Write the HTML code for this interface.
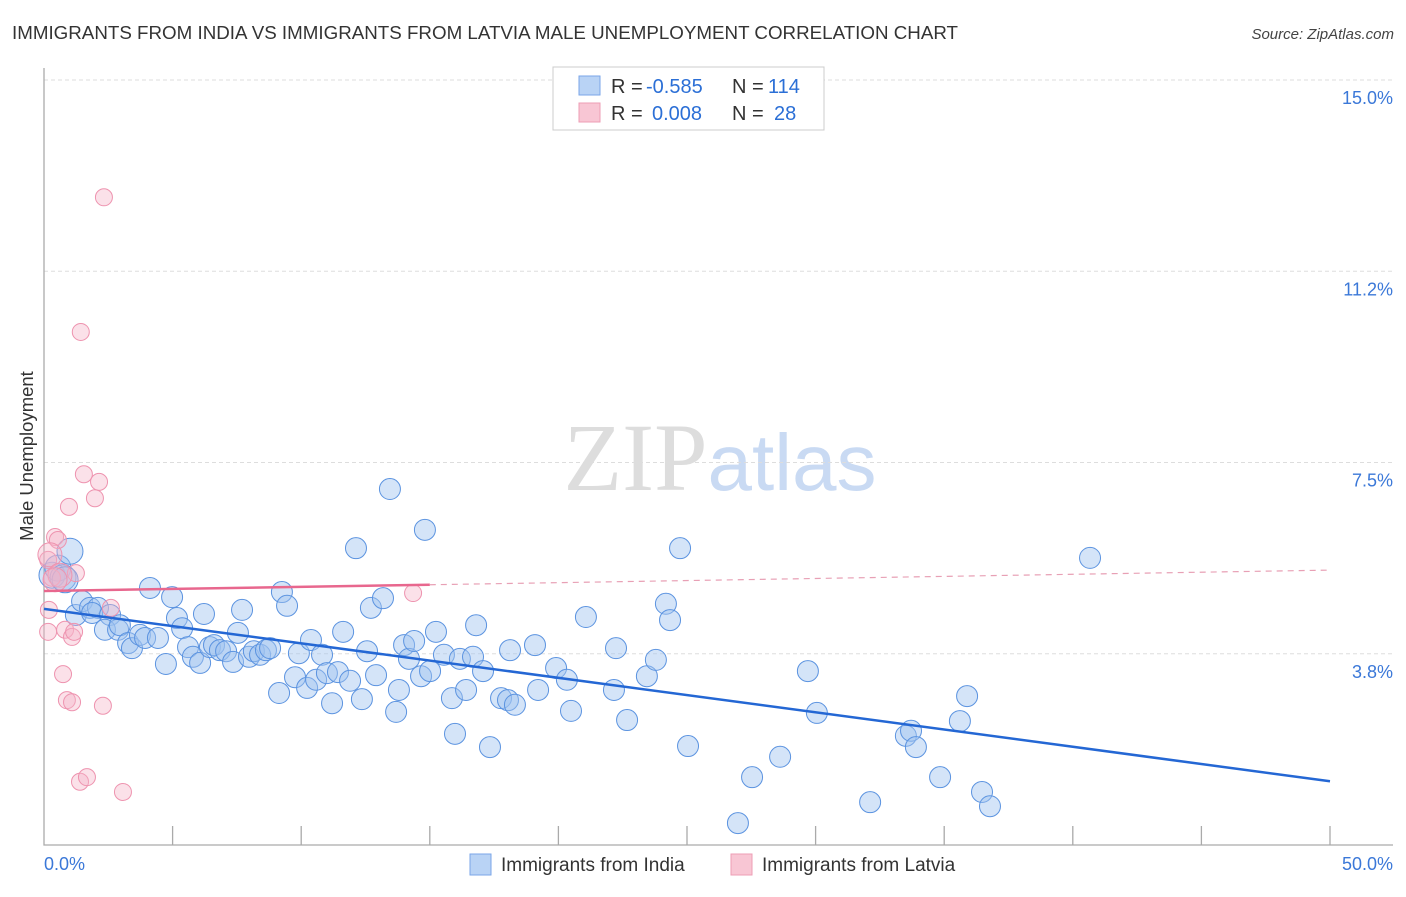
<!DOCTYPE html>
<html><head><meta charset="utf-8"><style>
body{margin:0;background:#fff;font-family:"Liberation Sans",sans-serif;}
svg text{font-family:"Liberation Sans",sans-serif;}
</style></head><body>
<svg id="chart" width="1406" height="892" xmlns="http://www.w3.org/2000/svg">
<text x="12" y="39" font-size="18" fill="#333" textLength="946" lengthAdjust="spacingAndGlyphs">IMMIGRANTS FROM INDIA VS IMMIGRANTS FROM LATVIA MALE UNEMPLOYMENT CORRELATION CHART</text>
<text x="1394" y="39" font-size="15" fill="#444" font-style="italic" text-anchor="end">Source: ZipAtlas.com</text>
<text x="720" y="490" font-size="96" text-anchor="middle"><tspan fill="#ddd" font-family="Liberation Serif">ZIP</tspan><tspan fill="#c9daf3" font-size="80">atlas</tspan></text>
<text transform="translate(33,456) rotate(-90)" font-size="18.5" fill="#333" text-anchor="middle">Male Unemployment</text>
<g id="grid"></g><g id="axes"></g><g id="pts"></g><g id="lines"></g>
<g>
<rect x="553" y="67" width="271" height="63" fill="#fff" stroke="#ccc"/>
<rect x="579" y="76" width="21" height="19" fill="#b9d3f5" stroke="#7aa6e8"/>
<rect x="579" y="103" width="21" height="19" fill="#f8c6d4" stroke="#ee9db5"/>
<text x="611" y="93" font-size="20" fill="#333">R =</text>
<text x="646" y="93" font-size="20" fill="#2b6fd6">-0.585</text>
<text x="732" y="93" font-size="20" fill="#333">N =</text>
<text x="768" y="93" font-size="20" fill="#2b6fd6">114</text>
<text x="611" y="120" font-size="20" fill="#333">R =</text>
<text x="652" y="120" font-size="20" fill="#2b6fd6">0.008</text>
<text x="732" y="120" font-size="20" fill="#333">N =</text>
<text x="774" y="120" font-size="20" fill="#2b6fd6">28</text>
</g>
<g>
<rect x="470" y="854" width="21" height="21" fill="#b9d3f5" stroke="#7aa6e8"/>
<text x="501" y="871" font-size="19" fill="#333">Immigrants from India</text>
<rect x="731" y="854" width="21" height="21" fill="#f8c6d4" stroke="#ee9db5"/>
<text x="762" y="871" font-size="19" fill="#333">Immigrants from Latvia</text>
</g>
</svg>
<script>
const yTicks=[3.75,7.5,11.25,15];
const yTickLabels=["3.8%","7.5%","11.2%","15.0%"];
const xTicks=[0,5,10,15,20,25,30,35,40,45,50];
const indiaX=[0.31,0.54,0.74,1.01,0.82,1.24,1.48,1.79,2.10,1.87,2.57,2.37,2.88,2.95,3.27,3.42,3.73,3.93,4.12,4.43,4.74,4.98,5.17,5.37,5.60,5.79,6.07,6.22,6.45,6.61,6.84,7.08,7.35,7.54,7.70,7.97,8.16,8.40,8.63,8.79,9.14,9.25,9.45,9.91,9.76,10.23,10.38,10.58,10.81,11.00,11.20,11.43,11.63,11.90,12.13,12.36,12.56,12.71,12.91,13.18,13.45,13.69,13.80,14.00,14.19,14.39,14.66,14.81,15.01,15.24,15.55,15.86,15.98,16.17,16.41,16.68,16.80,17.07,17.34,17.77,18.04,18.31,18.12,19.09,19.21,19.91,20.33,20.49,21.07,22.16,22.24,22.67,23.44,23.79,24.18,24.34,24.73,25.04,26.98,27.53,28.62,29.70,30.05,32.12,33.51,33.71,33.90,34.84,35.61,35.89,36.47,36.78,40.67];
const indiaY=[5.29,5.43,5.24,5.76,5.20,4.51,4.78,4.65,4.65,4.55,4.51,4.22,4.22,4.31,3.96,3.86,4.12,4.06,5.04,4.06,3.55,4.86,4.45,4.25,3.88,3.69,3.57,4.53,3.88,3.92,3.82,3.80,3.59,4.16,4.61,3.69,3.80,3.73,3.82,3.86,2.98,4.96,4.69,3.76,3.29,3.08,4.02,3.24,3.73,3.37,2.78,3.39,4.18,3.22,5.82,2.86,3.80,4.65,3.33,4.84,6.98,2.61,3.04,3.92,3.65,4.00,3.31,6.18,3.41,4.18,3.73,2.88,2.18,3.65,3.04,3.69,4.31,3.41,1.92,2.88,2.84,2.75,3.82,3.92,3.04,3.47,3.24,2.63,4.47,3.04,3.86,2.45,3.31,3.63,4.73,4.41,5.82,1.94,0.43,1.33,1.73,3.41,2.59,0.84,2.14,2.24,1.92,1.33,2.43,2.92,1.04,0.76,5.63];
const latviaX=[2.33,1.43,1.55,2.14,1.98,0.97,0.43,0.54,0.16,1.24,0.31,0.19,2.60,0.16,0.82,1.09,1.17,0.74,0.89,1.09,2.29,1.40,1.67,3.07,14.35,0.23,0.62,0.43];
const latviaY=[12.70,10.06,7.27,7.12,6.80,6.63,6.04,5.98,5.59,5.33,5.24,4.61,4.65,4.18,4.22,4.08,4.18,3.35,2.84,2.80,2.73,1.24,1.33,1.04,4.94,5.69,5.29,5.20];
const indiaTrend=[4.63,1.25];
const latviaTrend=[4.98,5.39];
const X0=44,X1=1330,Y0=845,Y1=80;
const sx=v=>X0+v*(X1-X0)/50, sy=v=>Y0-v*(Y0-Y1)/15;
const NS="http://www.w3.org/2000/svg";
function mk(tag,attrs,parent){const e=document.createElementNS(NS,tag);for(const k in attrs)e.setAttribute(k,attrs[k]);document.getElementById(parent).appendChild(e);return e;}
yTicks.forEach((t,i)=>{
 const l=mk('line',{x1:X0,x2:1393,y1:sy(t),y2:sy(t),stroke:'#ddd','stroke-dasharray':'4,3'},'grid');
 
 
 const tx=mk('text',{x:1393,y:sy(t)+24,'font-size':18,fill:'#3b78d8','text-anchor':'end'},'grid');
 tx.textContent=yTickLabels[i];
 
 
});
const ax=mk('path',{d:`M${X0},68V${Y0}H1393`,stroke:'#aaa',fill:'none','stroke-width':1.3},'axes');


xTicks.forEach((t,i)=>{if(i==0)return;
 const l=mk('line',{x1:sx(t),x2:sx(t),y1:826,y2:Y0,stroke:'#aaa','stroke-width':1.3},'axes');
 
 
});
[["0.0%",X0,'start'],["50.0%",1393,'end']].forEach(a=>{
 const tx=mk('text',{x:a[1],y:870,'font-size':18,fill:'#3b78d8','text-anchor':a[2]},'axes');
 tx.textContent=a[0];
 
 
});
indiaX.forEach((v,i)=>{
 const c=mk('circle',{cx:sx(v),cy:sy(indiaY[i]),r:(v<1.2?13:10.5),fill:'rgba(160,196,240,0.45)',stroke:'#5b93e0','stroke-width':1},'pts');
 
 
});
latviaX.forEach((v,i)=>{
 const c=mk('circle',{cx:sx(v),cy:sy(latviaY[i]),r:(i>=25?12:8.5),fill:'rgba(246,180,200,0.4)',stroke:'#ee93af','stroke-width':1},'pts');
 
 
});
const lt=v=>latviaTrend[0]+(latviaTrend[1]-latviaTrend[0])*v/50;
const b=mk('line',{x1:sx(0),y1:sy(indiaTrend[0]),x2:sx(50),y2:sy(indiaTrend[1]),stroke:'#2467d4','stroke-width':2.5},'lines');


const p1=mk('line',{x1:sx(0),y1:sy(lt(0)),x2:sx(15),y2:sy(lt(15)),stroke:'#e8678e','stroke-width':2.5},'lines');


const p2=mk('line',{x1:sx(15),y1:sy(lt(15)),x2:sx(50),y2:sy(lt(50)),stroke:'#e8a0b5','stroke-width':1.2,'stroke-dasharray':'6,5'},'lines');


</script>
</body></html>
